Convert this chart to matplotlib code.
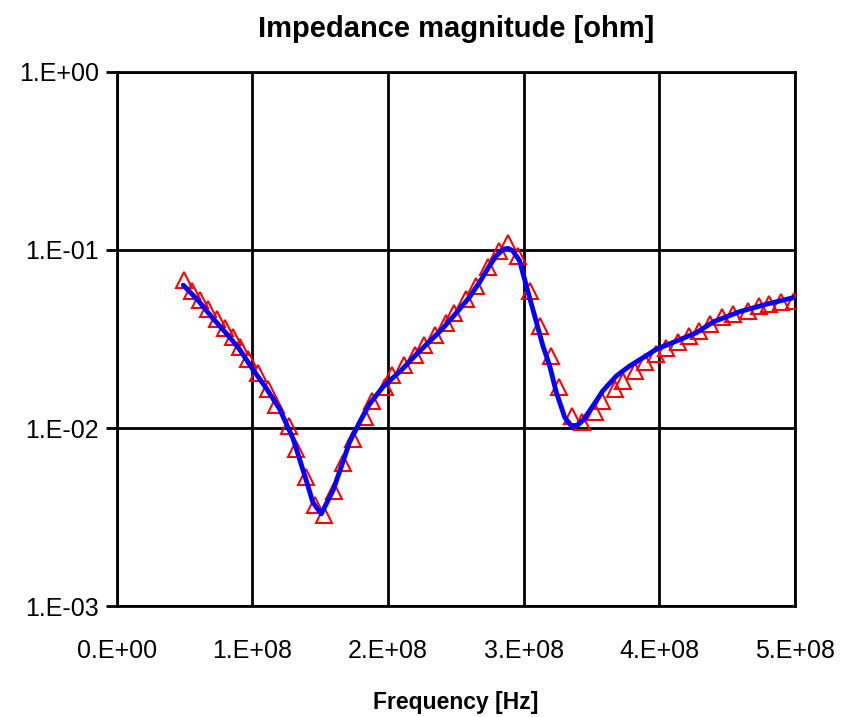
import matplotlib
matplotlib.use("Agg")
import matplotlib.pyplot as plt
from matplotlib.ticker import FixedLocator

plt.rcParams['font.family'] = ['Liberation Sans', 'DejaVu Sans']

# Measured data (triangles), frequency in units of 1e8 Hz
meas_freq_e8 = [0.498, 0.555, 0.614, 0.675, 0.737, 0.796, 0.855, 0.911, 0.970, 1.039,
                1.116, 1.175, 1.266, 1.323, 1.396, 1.458, 1.526, 1.605, 1.666, 1.740,
                1.827, 1.883, 1.974, 2.031, 2.117, 2.196, 2.264, 2.343, 2.430, 2.486,
                2.577, 2.651, 2.737, 2.818, 2.884, 2.958, 3.044, 3.123, 3.199, 3.262,
                3.356, 3.433, 3.524, 3.581, 3.672, 3.733, 3.819, 3.893, 3.979, 4.053,
                4.139, 4.218, 4.294, 4.378, 4.466, 4.545, 4.655, 4.737, 4.810, 4.897,
                4.995]
meas_mag = [0.0681, 0.0590, 0.0526, 0.0467, 0.0410, 0.0363, 0.0323, 0.0284, 0.0244, 0.0203,
            0.0166, 0.0135, 0.0102, 0.00762, 0.00528, 0.00369, 0.00324, 0.00445, 0.00635, 0.00867,
            0.01156, 0.01422, 0.01705, 0.01991, 0.02268, 0.02582, 0.02939, 0.03344, 0.03890, 0.04426,
            0.05306, 0.06300, 0.07994, 0.0991, 0.1094, 0.0922, 0.0590, 0.0376, 0.0253, 0.0171,
            0.01163, 0.01076, 0.01225, 0.01422, 0.01656, 0.01844, 0.02100, 0.02340, 0.02606, 0.02805,
            0.03033, 0.03280, 0.03527, 0.03840, 0.04187, 0.04368, 0.04557, 0.04828, 0.04975, 0.05127,
            0.05193]

# Model curve (blue line), frequency in units of 1e8 Hz
model_freq_e8 = [0.49, 0.6, 0.7, 0.8, 0.9, 1.0, 1.1, 1.2, 1.3, 1.396, 1.445, 1.507,
                 1.596, 1.655, 1.716, 1.790, 1.863, 1.962, 2.1, 2.2, 2.3, 2.4, 2.5, 2.6,
                 2.675, 2.749, 2.8, 2.85, 2.884, 2.92, 2.970, 3.020, 3.081, 3.142, 3.192,
                 3.241, 3.303, 3.355, 3.40, 3.441, 3.511, 3.585, 3.684, 3.782, 3.880, 3.979,
                 4.127, 4.275, 4.4, 4.6, 4.8, 5.0]
model_mag = [0.0634, 0.0520, 0.0420, 0.0345, 0.0280, 0.0215, 0.0168, 0.0128, 0.0087, 0.0051,
             0.00383, 0.00329, 0.00449, 0.00607, 0.00832, 0.01076, 0.0136, 0.0170, 0.0212, 0.0255,
             0.0303, 0.0360, 0.0440, 0.0542, 0.0659, 0.0817, 0.0929, 0.1010, 0.1022, 0.0990,
             0.0871, 0.0630, 0.0428, 0.0290, 0.0224, 0.0159, 0.0115, 0.0102, 0.0104, 0.0111,
             0.0133, 0.0162, 0.0196, 0.0223, 0.0248, 0.0277, 0.0308, 0.0343, 0.0395, 0.0452,
             0.0498, 0.0542]

x_ticks = [0, 1e8, 2e8, 3e8, 4e8, 5e8]
x_tick_labels = ["0.E+00", "1.E+08", "2.E+08", "3.E+08", "4.E+08", "5.E+08"]
y_ticks = [1e-3, 1e-2, 1e-1, 1e0]
y_tick_labels = ["1.E-03", "1.E-02", "1.E-01", "1.E+00"]

fig = plt.figure(figsize=(8.41, 7.17), dpi=100)
ax = fig.add_axes([0.139, 0.1548, 0.806, 0.7448])

mf = [v * 1e8 for v in meas_freq_e8]
lf = [v * 1e8 for v in model_freq_e8]

ax.plot(mf, meas_mag, linestyle='none', marker='^', markersize=11,
        markerfacecolor='none', markeredgecolor='#FF0000', markeredgewidth=1.5, zorder=3)
ax.plot(lf, model_mag, color='#0000FF', linewidth=3.5, zorder=4,
        solid_joinstyle='round', solid_capstyle='round')

ax.set_yscale('log')
ax.set_xlim(0, 5e8)
ax.set_ylim(1e-3, 1e0)
ax.xaxis.set_major_locator(FixedLocator(x_ticks))
ax.set_xticklabels(x_tick_labels)
ax.yaxis.set_major_locator(FixedLocator(y_ticks))
ax.yaxis.set_minor_locator(FixedLocator([]))
ax.set_yticklabels(y_tick_labels)

ax.grid(True, which='major', color='black', linewidth=2)
ax.set_axisbelow(True)
for s in ax.spines.values():
    s.set_linewidth(2)
    s.set_color('black')

ax.tick_params(axis='y', which='major', direction='out', length=8, width=2, pad=5, labelsize=18)
ax.tick_params(axis='x', which='major', length=0, pad=24, labelsize=18)

ax.set_title("Impedance magnitude [ohm]", fontsize=21, fontweight='bold', pad=25)
ax.set_xlabel("Frequency [Hz]", fontsize=16.5, fontweight='bold', labelpad=20)

fig.savefig("out.png", dpi=100)
